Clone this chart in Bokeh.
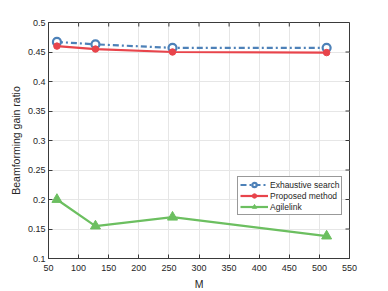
from bokeh.plotting import figure
from bokeh.models import Range1d, Legend, LegendItem, FixedTicker
from bokeh.embed import file_html
from bokeh.resources import INLINE

M = [64, 128, 256, 512]
exhaustive = [0.467, 0.463, 0.457, 0.457]
proposed = [0.460, 0.455, 0.450, 0.449]
agilelink = [0.200, 0.155, 0.170, 0.138]

x_ticks = [50, 100, 150, 200, 250, 300, 350, 400, 450, 500, 550]
y_ticks = [0.1, 0.15, 0.2, 0.25, 0.3, 0.35, 0.4, 0.45, 0.5]

FONT = "Liberation Sans"
AX = "#3a3a3a"

x0, x1, y0, y1 = 50, 550, 0.1, 0.5
FW, FH = 301, 236

p = figure(frame_width=FW, frame_height=FH, output_backend="svg", toolbar_location=None,
           x_range=Range1d(x0, x1), y_range=Range1d(y0, y1),
           min_border_left=48, min_border_top=22, min_border_right=20, min_border_bottom=28,
           x_axis_label="M", y_axis_label="Beamforming gain ratio")
p.background_fill_color = "white"
p.outline_line_color = AX
p.outline_line_width = 1

for ax in p.xaxis:
    ax.ticker = FixedTicker(ticks=x_ticks)
for ax in p.yaxis:
    ax.ticker = FixedTicker(ticks=y_ticks)

for ax in list(p.xaxis) + list(p.yaxis):
    ax.major_tick_in = 4
    ax.major_tick_out = 0
    ax.minor_tick_line_color = None
    ax.axis_line_color = AX
    ax.major_tick_line_color = AX
    ax.major_label_text_font = FONT
    ax.major_label_text_font_size = "9px"
    ax.major_label_text_color = "#262626"
    ax.axis_label_text_font = FONT
    ax.axis_label_text_font_size = "10.5px"
    ax.axis_label_text_font_style = "normal"
    ax.axis_label_text_color = "#262626"
p.xaxis.major_label_standoff = 6
p.xaxis.axis_label_standoff = 4
p.yaxis.major_label_standoff = 3
p.yaxis.axis_label_standoff = 3

# inward ticks on top and right edges (MATLAB box style)
tx = 4 * (x1 - x0) / FW
ty = 4 * (y1 - y0) / FH
p.segment(x0=x_ticks, y0=[y1] * len(x_ticks), x1=x_ticks, y1=[y1 - ty] * len(x_ticks),
          line_color=AX, line_width=1)
p.segment(x0=[x1] * len(y_ticks), y0=y_ticks, x1=[x1 - tx] * len(y_ticks), y1=y_ticks,
          line_color=AX, line_width=1)

p.xgrid.ticker = FixedTicker(ticks=x_ticks)
p.ygrid.ticker = FixedTicker(ticks=y_ticks)
p.grid.grid_line_color = "#e6e6e6"
p.grid.grid_line_width = 1

blue = "#4d81b8"
red = "#e8444b"
green = "#6cbf60"

l1 = p.line(M, exhaustive, line_color=blue, line_width=2.2, line_dash="6 3 2 3")
m1 = p.scatter(M, exhaustive, marker="circle", size=8, fill_color="white", line_color=blue, line_width=2.2)
l2 = p.line(M, proposed, line_color=red, line_width=2.2)
m2 = p.scatter(M, proposed, marker="circle", size=6.5, fill_color=red, line_color=red)
l3 = p.line(M, agilelink, line_color=green, line_width=2.2)
m3 = p.scatter(M, agilelink, marker="triangle", size=10, fill_color=green, line_color=green)

legend = Legend(items=[LegendItem(label="Exhaustive search", renderers=[l1, m1]),
                       LegendItem(label="Proposed method", renderers=[l2, m2]),
                       LegendItem(label="Agilelink", renderers=[l3, m3])],
                location=(189, 43))
legend.label_text_font = FONT
legend.label_text_font_size = "8.5px"
legend.label_text_color = "#262626"
legend.glyph_width = 28
legend.glyph_height = 11
legend.label_height = 11
legend.label_standoff = 2
legend.spacing = 0
legend.padding = 2
legend.margin = 0
legend.border_line_color = "#333333"
legend.border_line_width = 1
legend.background_fill_alpha = 1
p.add_layout(legend, "center")

open("out.html", "w").write(file_html(p, INLINE))
